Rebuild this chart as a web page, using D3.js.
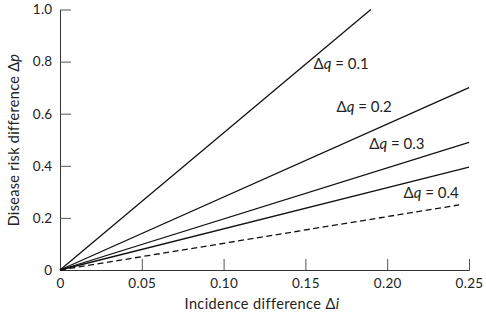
<!DOCTYPE html>
<html><head><meta charset="utf-8">
<script src="https://cdn.jsdelivr.net/npm/d3@7"></script>
<style>body{margin:0;background:#fff}text{font-family:Lato,"Open Sans",sans-serif;fill:#222}</style>
</head><body><svg id="c" width="486" height="314"></svg>
<script>
const lineNames = ["Δq = 0.1", "Δq = 0.2", "Δq = 0.3", "", "Δq = 0.4"];
const startX = [0, 0, 0, 0, 0];
const startY = [0, 0, 0, 0, 0];
const endX = [0.19, 0.25, 0.25, 0.25, 0.244];
const endY = [1.0, 0.70, 0.49, 0.395, 0.25];
const dashed = [false, false, false, false, true];
const xTicks = [0, 0.05, 0.10, 0.15, 0.20, 0.25];
const xTickLabels = ["0", "0.05", "0.10", "0.15", "0.20", "0.25"];
const yTicks = [0, 0.2, 0.4, 0.6, 0.8, 1.0];
const yTickLabels = ["0", "0.2", "0.4", "0.6", "0.8", "1.0"];
const labelAt = [[0.155, 0.77], [0.169, 0.607], [0.189, 0.465], null, [0.21, 0.277]];

const svg = d3.select("#c");
const x = d3.scaleLinear().domain([0, 0.25]).range([60, 469]);
const y = d3.scaleLinear().domain([0, 1]).range([270, 9.5]);

const xAxis = svg.append("g").attr("transform", "translate(0,270)")
  .call(d3.axisBottom(x).tickValues(xTicks).tickFormat((d,i)=>xTickLabels[i]).tickSizeInner(-11).tickSizeOuter(0).tickPadding(5));
const yAxis = svg.append("g").attr("transform", "translate(60,0)")
  .call(d3.axisLeft(y).tickValues(yTicks).tickFormat((d,i)=>yTickLabels[i]).tickSizeInner(-11).tickSizeOuter(0).tickPadding(7.5));
[xAxis, yAxis].forEach(a => {
  a.selectAll("path").attr("stroke", "#333").attr("stroke-width", 1);
  a.selectAll("line").attr("stroke", "#555").attr("stroke-width", 1);
  a.selectAll("text").attr("font-size", 13.5).attr("fill", "#222").attr("letter-spacing", 0.3).style("font-family", "Lato, 'Open Sans', sans-serif");
});
xAxis.selectAll(".tick").filter(d => d === 0).select("line").remove();
yAxis.selectAll(".tick").filter(d => d === 0).select("line").remove();
xAxis.selectAll("text").attr("dy", "0.95em");

const line = d3.line().x(d => x(d[0])).y(d => y(d[1]));
lineNames.forEach((n, i) => {
  svg.append("path")
    .attr("d", line([[startX[i], startY[i]], [endX[i], endY[i]]]))
    .attr("fill", "none").attr("stroke", "#111").attr("stroke-width", 1.3)
    .attr("stroke-dasharray", dashed[i] ? "6,3.5" : null);
  if (labelAt[i]) {
    const t = svg.append("text").attr("x", x(labelAt[i][0])).attr("y", y(labelAt[i][1]))
      .attr("font-size", 15);
    t.append("tspan").text("Δ");
    t.append("tspan").attr("font-style", "italic").text("q");
    t.append("tspan").text(" = " + n.split("= ")[1]);
  }
});

const xl = svg.append("text").attr("x", 262).attr("y", 309).attr("text-anchor", "middle").attr("font-size", 14.5).attr("letter-spacing", 0.4);
xl.append("tspan").text("Incidence difference Δ");
xl.append("tspan").attr("font-style", "italic").text("i");
const yl = svg.append("text").attr("transform", "translate(19,140) rotate(-90)").attr("text-anchor", "middle").attr("font-size", 14.5).attr("letter-spacing", 0.3);
yl.append("tspan").text("Disease risk difference Δ");
yl.append("tspan").attr("font-style", "italic").text("p");
</script></body></html>
